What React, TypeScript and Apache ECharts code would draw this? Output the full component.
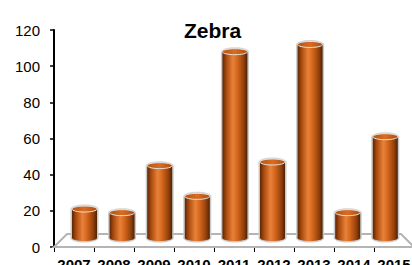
import React, { useEffect, useRef } from "react";
import * as echarts from "echarts";

const categories = ["2007", "2008", "2009", "2010", "2011", "2012", "2013", "2014", "2015"];
const values = [21, 19, 45, 28, 108, 47, 112, 19, 61];
const yMin = 0;
const yMax = 120;
const yInterval = 20;
const title = "Zebra";

const FONT = "'Liberation Sans', Arial, sans-serif";

export default function App() {
  const ref = useRef<HTMLDivElement>(null);
  useEffect(() => {
    if (!ref.current) return;
    document.body.style.margin = "0";
    const chart = echarts.init(ref.current, undefined, { renderer: "svg" });

    const bodyGrad = new echarts.graphic.LinearGradient(0, 0, 1, 0, [
      { offset: 0, color: "#5a2606" },
      { offset: 0.15, color: "#a8480c" },
      { offset: 0.42, color: "#e8823a" },
      { offset: 0.6, color: "#d4661c" },
      { offset: 0.85, color: "#93400c" },
      { offset: 1, color: "#4e2204" },
    ]);
    const capGrad = new echarts.graphic.LinearGradient(0, 0, 1, 0, [
      { offset: 0, color: "#b8520f" },
      { offset: 0.5, color: "#d96c22" },
      { offset: 1, color: "#b04c0c" },
    ]);

    const option: any = {
      animation: false,
      title: {
        text: title,
        left: 179,
        top: 15,
        textStyle: { fontFamily: FONT, fontSize: 21, fontWeight: "bold", color: "#000" },
      },
      grid: [
        { left: 54, top: 30, width: 360, height: 217, outerBoundsMode: "none", containLabel: false },
        { left: 65.7, top: 30, width: 338.4, height: 217, outerBoundsMode: "none", containLabel: false },
      ],
      xAxis: [
        {
          type: "category",
          gridIndex: 0,
          data: categories,
          axisLine: { lineStyle: { color: "#000", width: 1.5 } },
          axisTick: { show: true, length: 5, lineStyle: { color: "#000", width: 1 } },
          axisLabel: {
            fontFamily: FONT,
            fontSize: 15,
            fontWeight: "bold",
            color: "#000",
            margin: 10,
            interval: 0,
          },
        },
        { type: "category", gridIndex: 1, data: categories, show: false },
      ],
      yAxis: [
        {
          type: "value",
          gridIndex: 0,
          min: yMin,
          max: yMax,
          interval: yInterval,
          axisLine: { show: true, lineStyle: { color: "#000", width: 2 } },
          axisTick: { show: true, length: 4, lineStyle: { color: "#000", width: 1.5 } },
          splitLine: { show: false },
          axisLabel: { fontFamily: FONT, fontSize: 15, color: "#000", margin: 14 },
        },
        { type: "value", gridIndex: 1, min: yMin, max: yMax, interval: yInterval, show: false },
      ],
      graphic: [
        {
          type: "polygon",
          z: 1,
          shape: { points: [[54, 247], [67, 234], [401, 234], [414, 247]] },
          style: { fill: "#ffffff", stroke: "#b4b4b4", lineWidth: 2 },
        },
      ],
      series: [
        {
          type: "custom",
          xAxisIndex: 1,
          yAxisIndex: 1,
          z: 5,
          data: values.map((v, i) => [i, v]),
          renderItem: (params: any, api: any) => {
            const idx = api.value(0);
            const v = api.value(1);
            const top = api.coord([idx, v]);
            const base = api.coord([idx, 0]);
            const bw = api.size([1, 0])[0] * 0.665;
            const rx = bw / 2;
            const cx = top[0];
            const topY = top[1];
            const botY = base[1] - 9;
            const ry = 3;
            const o = 1.5;
            return {
              type: "group",
              children: [
                { type: "ellipse", shape: { cx, cy: botY, rx: rx + o, ry: ry + o }, style: { fill: "#c9c9c9" } },
                { type: "rect", shape: { x: cx - rx - o, y: topY, width: bw + 2 * o, height: botY - topY }, style: { fill: "#c9c9c9" } },
                { type: "ellipse", shape: { cx, cy: topY, rx: rx + o, ry: ry + o }, style: { fill: "#d6d6d6" } },
                { type: "ellipse", shape: { cx, cy: botY, rx, ry }, style: { fill: bodyGrad } },
                { type: "rect", shape: { x: cx - rx, y: topY, width: bw, height: botY - topY }, style: { fill: bodyGrad } },
                { type: "ellipse", shape: { cx, cy: topY, rx, ry }, style: { fill: capGrad, stroke: "#e2e2e2", lineWidth: 1 } },
              ],
            };
          },
        },
      ],
    };
    chart.setOption(option);
    return () => chart.dispose();
  }, []);
  return <div ref={ref} style={{ width: 412, height: 265 }} />;
}
